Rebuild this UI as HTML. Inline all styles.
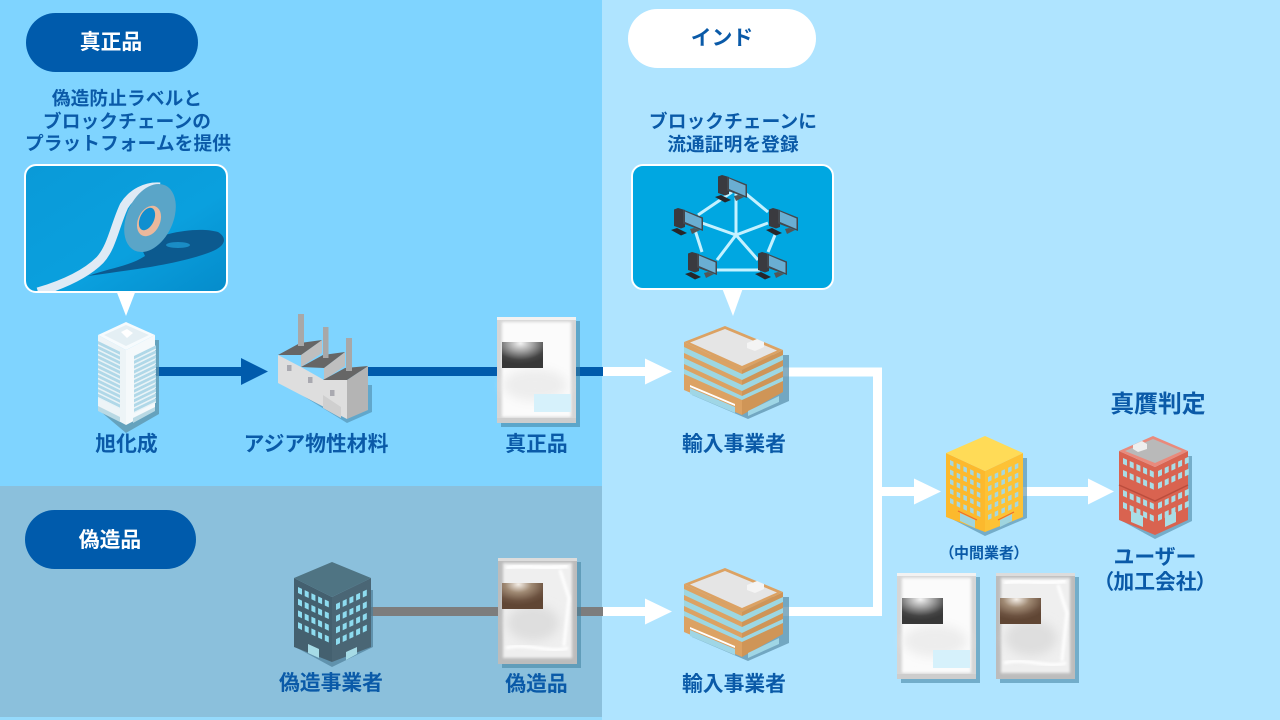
<!DOCTYPE html>
<html lang="ja"><head><meta charset="utf-8"><title>diagram</title>
<style>
html,body{margin:0;padding:0;background:#afe4ff}
svg{display:block}
text{font-family:"Liberation Sans","Noto Sans CJK JP",sans-serif;font-weight:700;fill:#0a5aa8;text-anchor:middle}
.l{font-size:20.8px}
.s{font-size:18.7px;font-weight:700;letter-spacing:.1px}
.p{font-feature-settings:"palt"}
</style></head><body>
<svg xmlns="http://www.w3.org/2000/svg" width="1280" height="720" viewBox="0 0 1280 720">
<defs>
<filter id="b1" x="-30%" y="-30%" width="160%" height="160%"><feGaussianBlur stdDeviation="1.2"/></filter>
<filter id="b3" x="-30%" y="-30%" width="160%" height="160%"><feGaussianBlur stdDeviation="5"/></filter>
<linearGradient id="photo" x1="0" y1="0" x2="1" y2="1"><stop offset="0" stop-color="#0a9ad8"/><stop offset=".6" stop-color="#0aa0de"/><stop offset="1" stop-color="#058ccb"/></linearGradient>
<radialGradient id="lab1" cx=".45" cy=".05" r=".8"><stop offset="0" stop-color="#f4f4f4"/><stop offset=".4" stop-color="#a0a0a0"/><stop offset=".8" stop-color="#444"/><stop offset="1" stop-color="#383838"/></radialGradient>
<radialGradient id="lab2" cx=".4" cy=".05" r=".8"><stop offset="0" stop-color="#f5efe8"/><stop offset=".4" stop-color="#a08a74"/><stop offset=".8" stop-color="#6c5240"/><stop offset="1" stop-color="#604634"/></radialGradient>

<g id="w5"><rect width="4" height="6"/><rect x="6.700" width="4" height="6"/><rect x="13.400" width="4" height="6"/><rect x="20.100" width="4" height="6"/><rect x="26.800" width="4" height="6"/></g>
<g id="w5s"><rect width="3.500" height="5"/><rect x="6.700" width="3.500" height="5"/><rect x="13.400" width="3.500" height="5"/><rect x="20.100" width="3.500" height="5"/><rect x="26.800" width="3.500" height="5"/></g>
<g id="st"><rect width="22" height="3.200" fill="#b0d8e8"/><rect y="3.200" width="22" height="1.300" fill="#e8f3f7"/></g>

<g id="packA">
<rect x="4" y="4" width="79" height="106" fill="#3f7f9f" opacity=".55"/>
<rect width="79" height="106" fill="#d6d6d6"/>
<rect width="79" height="3" fill="#f2f2f2"/>
<rect x="5" y="5" width="69" height="95" fill="#fbfbfb" filter="url(#b1)"/>
<ellipse cx="38" cy="68" rx="32" ry="16" fill="#ededed" filter="url(#b3)"/>
<rect y="101" width="79" height="5" fill="#cdcdcd"/>
</g>
<g id="packB">
<rect x="4" y="4" width="79" height="106" fill="#3f7f9f" opacity=".55"/>
<rect width="79" height="106" fill="#bcbcbc"/>
<rect width="79" height="3" fill="#dcdcdc"/>
<rect x="5" y="5" width="69" height="95" fill="#efefef" filter="url(#b1)"/>
<ellipse cx="35" cy="65" rx="26" ry="18" fill="#dedede" filter="url(#b3)"/>
<path d="M8 10 C25 6 45 12 70 8" stroke="#fff" stroke-width="4" fill="none" filter="url(#b1)"/>
<path d="M62 12 L71 40 L66 88" stroke="#fff" stroke-width="3" fill="none" filter="url(#b1)"/>
<path d="M8 90 C30 84 50 96 70 90" stroke="#fff" stroke-width="3" fill="none" filter="url(#b1)"/>
</g>

<g id="pc">
<path d="M-3 22 L3 20 L13 25 L7 27.500 Z" fill="#26262a"/>
<path d="M16 21 L20 20 L26 22 L18 26 Z" fill="#555"/>
<path d="M0 1.500 L4 0 L11 2 V19 L7 20.500 L0 18 Z" fill="#3a3a3f"/>
<path d="M9 1.500 L29 9.500 V23 L9 15.500 Z" fill="#43484e"/>
<path d="M11 3.500 L27.500 10.500 V21 L11 14 Z" fill="#6aaed2"/>
</g>

<g id="imp">
<path d="M692 395 L748 419 L789 401 V355 H692 Z" fill="#5e93ad" opacity=".75"/>
<path d="M684 342 L742 370 V415 L684 390 Z" fill="#dca263"/>
<path d="M742 370 L783 350 V392 L742 415 Z" fill="#cf9557"/>
<path d="M684 347 L742 374 V380 L684 353 Z M684 358 L742 385 V391 L684 364 Z M684 369 L742 396 V400 L684 374 Z" fill="#9dd7e2"/>
<path d="M742 374 L783 355 V360 L742 380 Z M742 385 L783 366 V371 L742 391 Z M742 396 L783 377 V381 L742 400 Z" fill="#9dd7e2"/>
<path d="M690 388 L735 407 V413 L690 394 Z" fill="#9fd6e6"/>
<path d="M690 385 L735 404 V406 L690 387 Z" fill="#fff"/>
<path d="M748 411 L779 396 V402 L748 416 Z" fill="#9fd6e6"/>
<path d="M684 342 L725 326 L783 350 L742 370 Z" fill="#dca263"/>
<path d="M690 342.500 L725 329 L777 350.500 L742 366 Z" fill="#e5e5e5"/>
<path d="M747 343 L757 339 L764 342 V347 L755 351 L747 348 Z" fill="#f4f4f4"/>
</g>
</defs>

<!-- backgrounds -->
<rect width="1280" height="720" fill="#afe4ff"/>
<rect width="602" height="486" fill="#7fd4ff"/>
<rect y="486" width="602" height="231" fill="#8bc0dc"/>
<rect y="717" width="602" height="3" fill="#95dafc"/>

<!-- pills -->
<rect x="26" y="13" width="172" height="59" rx="29.500" fill="#005bac"/>
<text x="111" y="49" class="l" style="fill:#fff">真正品</text>
<rect x="628" y="9" width="188" height="59" rx="29.500" fill="#fff"/>
<text x="722" y="45" class="l">インド</text>
<rect x="25" y="510" width="171" height="59" rx="29.500" fill="#005bac"/>
<text x="110" y="547" class="l" style="fill:#fff">偽造品</text>

<!-- captions -->
<text x="127" y="105" class="s">偽造防止ラベルと</text>
<text x="127" y="128" class="s">ブロックチェーンの</text>
<text x="128" y="150" class="s">プラットフォームを提供</text>
<text x="733" y="128" class="s">ブロックチェーンに</text>
<text x="733" y="151" class="s">流通証明を登録</text>

<!-- photo box -->
<clipPath id="pc1"><rect x="26" y="166" width="200" height="125" rx="10"/></clipPath>
<path d="M116 290 H136 L126 316 Z" fill="#fff"/>
<g clip-path="url(#pc1)">
<rect x="26" y="166" width="200" height="125" fill="url(#photo)"/>
<path d="M88 276 C110 268 130 266 145 256 L140 245 C160 233 198 226 218 232 C228 238 226 247 208 253 C175 265 130 270 88 276 Z" fill="#0c5a8f"/>
<ellipse cx="178" cy="245" rx="12" ry="3" fill="#1a8cc5"/>
<path d="M38 292 C65 284 86 274 100 260 C112 247 115 225 124 206 C132 193 146 186 160 187" fill="none" stroke="#dfeaf5" stroke-width="9"/>
<ellipse cx="150" cy="218" rx="23" ry="36" transform="rotate(25 150 218)" fill="#5aa5c8"/>
<ellipse cx="149" cy="221" rx="11" ry="16" transform="rotate(25 149 221)" fill="#eab89c"/>
<ellipse cx="147" cy="219" rx="7" ry="12" transform="rotate(25 147 219)" fill="#0f8fd0"/>
</g>
<rect x="25" y="165" width="202" height="127" rx="11" fill="none" stroke="#fff" stroke-width="2"/>

<!-- network box -->
<path d="M722 288 H743 L733 316 Z" fill="#fff"/>
<rect x="632" y="165" width="201" height="124" rx="11" fill="#00a7e1" stroke="#fff" stroke-width="2"/>
<g stroke="#c4f1ff" stroke-width="3" fill="none">
<path d="M736 190 V235 M702 223 L736 235 L768 223 M717 260 L736 235 L758 260 M717 270 H760 M732 192 L698 215 M745 193 L768 212 M695 230 L702 252 M775 235 L768 252"/>
</g>
<use href="#pc" x="718" y="175"/>
<use href="#pc" x="674" y="208"/>
<use href="#pc" x="769" y="208"/>
<use href="#pc" x="688" y="252"/>
<use href="#pc" x="758" y="252"/>

<!-- blue connector -->
<rect x="150" y="367" width="92" height="9" fill="#005bac"/>
<path d="M241 358 L268 371.500 L241 385 Z" fill="#005bac"/>
<rect x="360" y="367" width="243" height="9" fill="#005bac"/>
<!-- gray connector -->
<rect x="365" y="607" width="238" height="9" fill="#7d7d7d"/>

<!-- white connectors -->
<rect x="603" y="367" width="43" height="9" fill="#fff"/>
<path d="M645 358.500 L672 371.500 L645 384.500 Z" fill="#fff"/>
<rect x="603" y="607" width="43" height="9" fill="#fff"/>
<path d="M645 598.500 L672 611.500 L645 624.500 Z" fill="#fff"/>
<path d="M780 372 H877.500 V611.500 H780" fill="none" stroke="#fff" stroke-width="9"/>
<rect x="880" y="487" width="35" height="9" fill="#fff"/>
<path d="M914 478.500 L941 491.500 L914 504.500 Z" fill="#fff"/>
<rect x="1022" y="487" width="67" height="9" fill="#fff"/>
<path d="M1088 478.500 L1114 491.500 L1088 504.500 Z" fill="#fff"/>

<!-- tower -->
<path d="M100 411 L126 433 L159 414 V340 H150 V400 Z" fill="#5f95ad" opacity=".8"/>
<path d="M98 335 L126 350 V425 L98 410 Z" fill="#edf4f7"/>
<path d="M126 350 L155 335 V410 L126 425 Z" fill="#f5f9fb"/>
<g transform="translate(98,341) skewY(26)">
<use href="#st"/><use href="#st" y="4.800"/><use href="#st" y="9.600"/><use href="#st" y="14.400"/><use href="#st" y="19.200"/><use href="#st" y="24"/><use href="#st" y="28.800"/><use href="#st" y="33.600"/><use href="#st" y="38.400"/><use href="#st" y="43.200"/><use href="#st" y="48"/><use href="#st" y="52.800"/>
</g>
<g transform="translate(134,356) skewY(-26)">
<use href="#st"/><use href="#st" y="4.800"/><use href="#st" y="9.600"/><use href="#st" y="14.400"/><use href="#st" y="19.200"/><use href="#st" y="24"/><use href="#st" y="28.800"/><use href="#st" y="33.600"/><use href="#st" y="38.400"/><use href="#st" y="43.200"/><use href="#st" y="48"/><use href="#st" y="52.800"/>
</g>
<path d="M98 406 L120 417 V422 L98 411 Z M133 418 L155 407 V411 L133 423 Z" fill="#b9d9e4"/>
<path d="M98 335 L126 322 L155 335 L126 350 Z" fill="#f7fbfd"/>
<path d="M104 335 L126 325 L149 335 L126 346 Z" fill="#e4eff4"/>
<path d="M121 332 L127 329 L133 333 L127 338 Z" fill="#fff"/>

<!-- factory -->
<path d="M282 383 L347 423 L372 412 V385 H362 V405 Z" fill="#4d88a8" opacity=".6"/>
<path d="M278 355 L301 367 L324 380 L347 380 V419 L278 383 Z" fill="#dedede"/>
<path d="M347 380 L368 366 V410 L347 419 Z" fill="#b4b4b4"/>
<path d="M301 355 L322 340 V353 L301 367 Z M324 368 L345 352 V366 L324 380 Z" fill="#bfbfbf"/>
<path d="M278 355 L300 343 L322 340 L301 355 Z M301 367 L323 355 L345 352 L324 368 Z M323 380 L345 368 L368 366 L347 380 Z" fill="#666"/>
<rect x="298" y="314" width="6" height="32" fill="#a8a8a8"/>
<rect x="323" y="327" width="5.500" height="31" fill="#a8a8a8"/>
<rect x="346" y="338" width="6" height="33" fill="#a8a8a8"/>
<rect x="287" y="365" width="4.500" height="6" fill="#a9a9b0"/>
<rect x="308" y="377" width="4.500" height="6" fill="#a9a9b0"/>
<rect x="330" y="390" width="4.500" height="6" fill="#a9a9b0"/>
<path d="M323 395 L341 407 V418 L323 408 Z" fill="#cfcfcf"/>

<!-- packs -->
<use href="#packA" x="497" y="317"/>
<rect x="502" y="342" width="41" height="26" fill="url(#lab1)"/>
<rect x="534" y="394" width="37" height="18" fill="#d6f1fb"/>

<use href="#packB" x="498" y="558"/>
<rect x="502" y="583" width="41" height="26" fill="url(#lab2)"/>

<use href="#packA" x="897" y="573"/>
<rect x="902" y="598" width="41" height="26" fill="url(#lab1)"/>
<rect x="933" y="650" width="37" height="18" fill="#d6f1fb"/>

<use href="#packB" x="996" y="573"/>
<rect x="1000" y="598" width="41" height="26" fill="url(#lab2)"/>

<!-- importers -->
<use href="#imp"/>
<use href="#imp" y="242"/>

<!-- yellow -->
<path d="M950 518 L985 536 L1027 518 V458 H1018 V510 Z" fill="#4e88a5" opacity=".6"/>
<path d="M946 453 L985 471 V532 L946 517 Z" fill="#fcb92d"/>
<path d="M985 471 L1023 453 V517 L985 532 Z" fill="#fdc235"/>
<g transform="translate(950,460) skewY(24.800)" fill="#a6d8e0">
<use href="#w5s"/><use href="#w5s" y="9.500"/><use href="#w5s" y="19"/><use href="#w5s" y="28.500"/><use href="#w5s" y="38"/>
</g>
<g transform="translate(988,477) skewY(-24.800)" fill="#a6d8e0">
<use href="#w5s"/><use href="#w5s" y="9.500"/><use href="#w5s" y="19"/><use href="#w5s" y="28.500"/><use href="#w5s" y="38"/>
</g>
<path d="M946 453 L985 436 L1023 453 L985 471 Z" fill="#ffdb57"/>
<path d="M960 513 L975 520 V528 L960 521 Z M1000 520 L1012 514 V521 L1000 527 Z" fill="#9fd5df"/>
<path d="M958 511 L977 520 M998 520 L1014 512" stroke="#ee6b2e" stroke-width="1"/>

<!-- red -->
<path d="M1122 521 L1155 539 L1192 521 V456 H1184 V512 Z" fill="#4e88a5" opacity=".6"/>
<path d="M1119 451 L1155 467 V535 L1119 520 Z" fill="#d96350"/>
<path d="M1155 467 L1188 451 V520 L1155 535 Z" fill="#d96350"/>
<g transform="translate(1123,458) skewY(24)" fill="#a9dde6">
<use href="#w5"/><use href="#w5" y="12"/><use href="#w5" y="32"/><use href="#w5" y="44"/>
</g>
<g transform="translate(1158,471) skewY(-25)" fill="#a9dde6">
<use href="#w5"/><use href="#w5" y="12"/><use href="#w5" y="32"/><use href="#w5" y="44"/>
</g>
<path d="M1119 485 L1155 501 L1188 485" stroke="#bb4d3d" stroke-width="1.500" fill="none"/>
<path d="M1131 511 L1143 516 V527 L1131 522 Z M1165 517 L1176 512 V522 L1165 527 Z" fill="#a9dde6"/>
<path d="M1119 451 L1153 436 L1188 451 L1155 467 Z" fill="#e98a7c"/>
<path d="M1125 451 L1153 439 L1182 451 L1155 463 Z" fill="#b9b9b9"/>
<path d="M1133 445 L1142 441 L1147 444 V449 L1138 452 L1133 449 Z" fill="#eee"/>

<!-- dark -->
<path d="M297 648 L332 667 L373 647 V590 H365 V640 Z" fill="#4f7f98" opacity=".7"/>
<path d="M294 578 L332 597 V662 L294 647 Z" fill="#44606f"/>
<path d="M332 597 L371 578 V647 L332 662 Z" fill="#4a6675"/>
<g transform="translate(298,587) skewY(25)" fill="#8edcf0">
<use href="#w5"/><use href="#w5" y="11.700"/><use href="#w5" y="23.400"/><use href="#w5" y="35.100"/>
</g>
<g transform="translate(336,604) skewY(-25)" fill="#8edcf0">
<use href="#w5"/><use href="#w5" y="11.700"/><use href="#w5" y="23.400"/><use href="#w5" y="35.100"/>
</g>
<path d="M294 578 L332 562 L371 578 L332 597 Z" fill="#4f7483"/>
<path d="M308 644 L319 649 V658 L308 653 Z M346 652 L357 647 V654 L346 660 Z" fill="#a6dbe6"/>

<!-- labels -->
<text x="126.500" y="451" class="l">旭化成</text>
<text x="316" y="451" class="l">アジア物性材料</text>
<text x="536.500" y="451" class="l">真正品</text>
<text x="734" y="451" class="l">輸入事業者</text>
<text x="331" y="690" class="l">偽造事業者</text>
<text x="536.500" y="691" class="l">偽造品</text>
<text x="734" y="691" class="l">輸入事業者</text>
<text x="984" y="558" class="p" style="font-size:15px">（中間業者）</text>
<text x="1158" y="412" style="font-size:23.800px">真贋判定</text>
<text x="1155" y="564" class="l">ユーザー</text>
<text x="1155" y="589" class="l p">（加工会社）</text>
</svg>
</body></html>
